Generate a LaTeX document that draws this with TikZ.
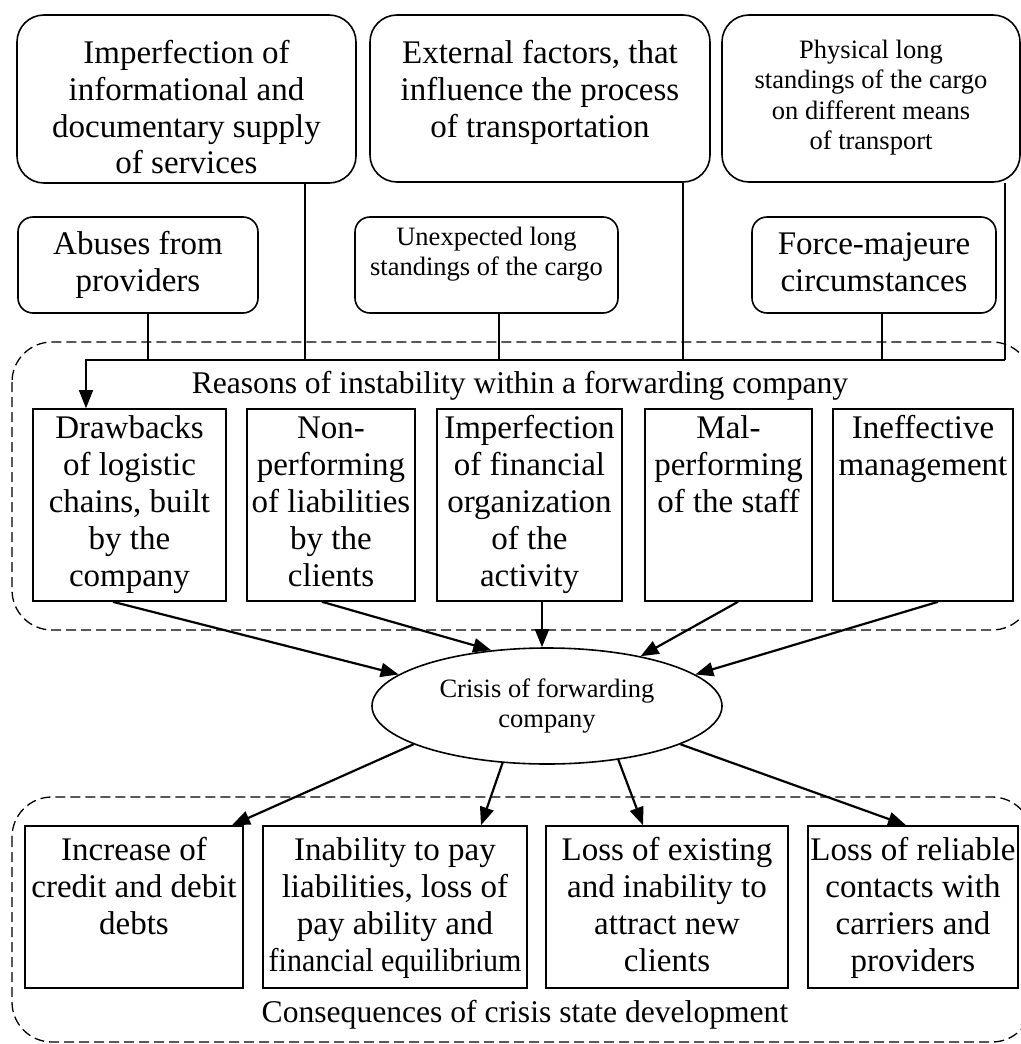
\documentclass[tikz,border=0pt]{standalone}
\usepackage{fontspec}
\setmainfont{Liberation Serif}
\usetikzlibrary{arrows.meta,shapes.geometric}

\newcommand{\bigtxt}{\fontsize{33}{37}\selectfont}
\newcommand{\lbltxt}{\fontsize{31.6}{36}\selectfont}
\newcommand{\smalltxt}{\fontsize{26.5}{30.5}\selectfont}
\newcommand{\inbox}[4]{\parbox[t][#2][t]{#1}{\centering\rule{0pt}{#3}#4}}

\begin{document}
\begin{tikzpicture}[x=1pt,y=-1pt,
	factor/.style={draw,line width=1.6pt,rounded corners=27pt,inner sep=0pt,font=\bigtxt},
	cause/.style={draw,line width=1.6pt,rounded corners=15pt,inner sep=0pt,font=\bigtxt},
	reason/.style={draw,line width=1.6pt,inner sep=0pt,font=\bigtxt},
	grpframe/.style={dash pattern=on 10pt off 5pt,line width=1.3pt,rounded corners=40pt},
	link/.style={line width=1.5pt},
	arr/.style={-{Triangle[length=18pt,width=14pt]},line width=2.2pt}]
\useasboundingbox (0,0) rectangle (1020,1044);
% dashed groups
\draw[grpframe] (12,342) rectangle (1032,630);
\draw[grpframe] (12,797) rectangle (1032,1042);
\node[font=\lbltxt] (reasons) at (520,386) {Reasons of instability within a forwarding company};
\node[font=\lbltxt] (conseq) at (525,1015) {Consequences of crisis state development};
% outer factors
\node[factor] (imperf) at (186.5,99) {\inbox{339pt}{168pt}{48pt}{Imperfection of\\informational and\\documentary supply\\of services}};
\node[factor] (extern) at (540,98.5) {\inbox{340pt}{167pt}{48pt}{External factors, that\\influence the process\\of transportation}};
\node[factor,font=\smalltxt] (physical) at (871,98.5) {\inbox{298pt}{167pt}{43pt}{Physical long\\standings of the cargo\\on different means\\of transport}};
\node[cause] (abuses) at (138,265) {\inbox{240pt}{96pt}{37.5pt}{Abuses from\\providers}};
\node[cause,font=\smalltxt] (unexp) at (486.5,265) {\inbox{263pt}{96pt}{28pt}{Unexpected long\\standings of the cargo}};
\node[cause] (force) at (874,265) {\inbox{244pt}{96pt}{37.5pt}{Force-majeure\\circumstances}};
% reasons
\foreach \nm/\cx/\w/\txt in {drawb/129.5/193/{Drawbacks\\of logistic\\chains, built\\by the\\company},
	nonperf/331/168/{Non-\\performing\\of liabilities\\by the\\clients},
	finorg/529.5/185/{Imperfection\\of financial\\organization\\of the\\activity},
	malperf/728.5/167/{Mal-\\performing\\of the staff},
	ineff/923/180/{Ineffective\\management}}
	{\node[reason] (\nm) at (\cx,505) {\inbox{\w pt}{192pt}{29pt}{\txt}};}
% consequences
\foreach \nm/\cx/\w/\txt in {incr/134/218/{Increase of\\credit and debit\\debts},
	inab/395/264/{Inability to pay\\liabilities, loss of\\pay ability and\\\scalebox{0.91}[1]{financial equilibrium}},
	lossex/667/242/{Loss of existing\\and inability to\\attract new\\clients},
	lossrel/913/210/{Loss of reliable\\contacts with\\carriers and\\providers}}
	{\node[reason] (\nm) at (\cx,907) {\inbox{\w pt}{162pt}{34pt}{\txt}};}
\node[draw,ellipse,line width=1.6pt,minimum width=350pt,minimum height=116pt,inner sep=0pt,
	align=center,font=\smalltxt] (crisis) at (547,706) {Crisis of forwarding\\company};
% bus
\coordinate (busL) at (86,360);
\coordinate (busR) at (1005,360);
\draw[link] ([xshift=10pt]abuses.south) -- ([xshift=10pt]abuses.south |- busL);
\draw[link] ([xshift=118.5pt]imperf.south) -- ([xshift=118.5pt]imperf.south |- busL);
\draw[link] ([xshift=12.5pt]unexp.south) -- ([xshift=12.5pt]unexp.south |- busL);
\draw[link] ([xshift=143pt]extern.south) -- ([xshift=143pt]extern.south |- busL);
\draw[link] ([xshift=8pt]force.south) -- ([xshift=8pt]force.south |- busL);
\draw[link] ([xshift=134pt]physical.south) -- (busR);
\draw[link,-{Triangle[length=18pt,width=14pt]}] (busR) -- (busL) -- (busL |- drawb.north);
% into the crisis
\draw[arr] ([xshift=-16.5pt]drawb.south) -- (crisis.168);
\draw[arr] ([xshift=-9pt]nonperf.south) -- (crisis.135);
\draw[arr] ([xshift=12.5pt]finorg.south) -- ([xshift=12.5pt]finorg.south |- crisis.north);
\draw[arr] ([xshift=9.5pt]malperf.south) -- (crisis.28);
\draw[arr] ([xshift=15pt]ineff.south) -- (crisis.12);
% out of the crisis
\draw[arr] (crisis.196) -- ([xshift=98pt]incr.north);
\draw[arr] (crisis.232) -- ([xshift=86pt]inab.north);
\draw[arr] (crisis.323) -- ([xshift=-24pt]lossex.north);
\draw[arr] (crisis.344) -- ([xshift=-7pt]lossrel.north);
\end{tikzpicture}
\end{document}
